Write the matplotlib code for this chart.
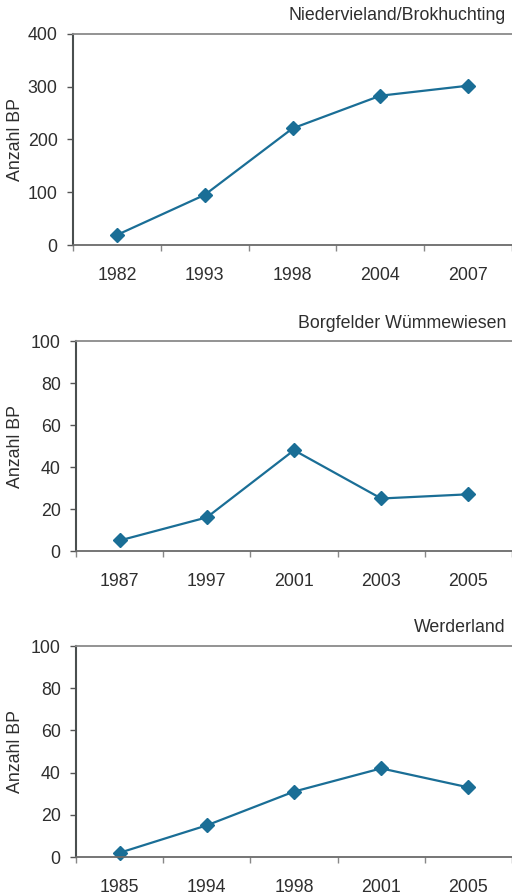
import matplotlib
matplotlib.use("Agg")
import matplotlib.pyplot as plt
import numpy as np

plt.rcParams["font.family"] = ["Liberation Sans", "DejaVu Sans"]

LINE = "#1a6e96"
TEXT = "#2e2e2e"

titles = ["Niedervieland/Brokhuchting", "Borgfelder Wümmewiesen", "Werderland"]

years_1 = ["1982", "1993", "1998", "2004", "2007"]
bp_1 = [19, 95, 221, 283, 302]

years_2 = ["1987", "1997", "2001", "2003", "2005"]
bp_2 = [5, 16, 48, 25, 27]

years_3 = ["1985", "1994", "1998", "2001", "2005"]
bp_3 = [2, 15, 31, 42, 33]

panels = [
    (years_1, bp_1, 400, 100),
    (years_2, bp_2, 100, 20),
    (years_3, bp_3, 100, 20),
]

W, H = 512, 896
fig = plt.figure(figsize=(W / 100, H / 100), dpi=100)

# axes boxes in pixels: left, top, bottom
boxes = [(73, 34, 245), (76, 341, 551), (76, 646, 857)]
title_y = [16, 323, 628]
FS = 12.8

for i, ((years, vals, ymax, step), (l, t, b)) in enumerate(zip(panels, boxes)):
    ax = fig.add_axes([l / W, 1 - b / H, (W - l) / W, (b - t) / H])
    x = np.arange(len(years))
    ax.plot(x, vals, color=LINE, lw=1.6, marker="D", ms=7.5, mec=LINE, mfc=LINE,
            clip_on=False)
    ax.set_xlim(-0.5, len(years) - 0.5)
    ax.set_ylim(0, ymax)
    ax.set_yticks(np.arange(0, ymax + 1, step))
    ax.set_xticks(x)
    ax.set_xticklabels(years)
    ax.set_xticks(np.arange(-0.5, len(years), 1.0), minor=True)
    ax.tick_params(axis="x", which="major", length=0, pad=16, labelsize=FS, labelcolor=TEXT)
    ax.tick_params(axis="x", which="minor", length=4, width=1, color="#888888", direction="out")
    ax.tick_params(axis="y", length=4, width=1, color="#555555", pad=7, labelsize=FS, labelcolor=TEXT)
    ax.spines["right"].set_visible(False)
    ax.spines["left"].set_color("#4a4f4f")
    ax.spines["left"].set_linewidth(1.5)
    ax.spines["top"].set_color("#8a8a8a")
    ax.spines["top"].set_linewidth(1.3)
    ax.spines["bottom"].set_color("#6a6a6a")
    ax.spines["bottom"].set_linewidth(1.3)

    fig.text(15 / W, 1 - (t + b) / 2 / H, "Anzahl BP", rotation=90,
             ha="center", va="center", fontsize=FS, color=TEXT)
    fig.text(506 / W, 1 - title_y[i] / H, titles[i], ha="right", va="center",
             fontsize=FS, color=TEXT)

fig.savefig("out.png", dpi=100)
